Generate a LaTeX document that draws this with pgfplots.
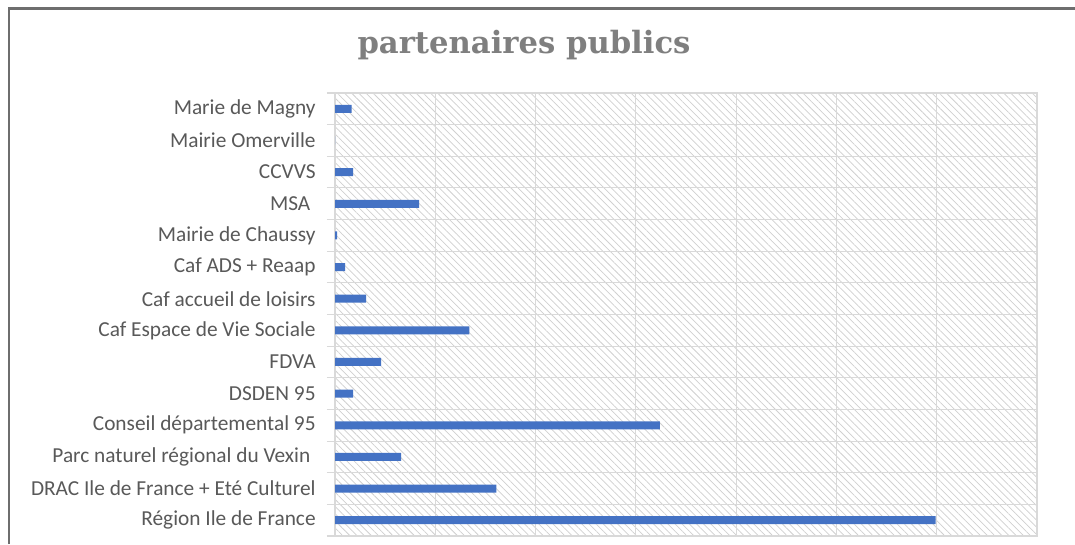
\documentclass[border=0pt]{standalone}
\usepackage{pgfplots}
\pgfplotsset{compat=1.18}
\usepackage{fontspec}
\setmainfont{Carlito}
\newfontfamily\titlefont{DejaVu Serif}
\usetikzlibrary{patterns.meta}

\definecolor{barblue}{HTML}{4472C4}
\definecolor{gridgray}{HTML}{D9D9D9}
\definecolor{labelgray}{HTML}{595959}
\definecolor{titlegray}{HTML}{7F7F7F}
\definecolor{framegray}{HTML}{6E6E6E}
\definecolor{hatchgray}{HTML}{D0D0D0}

\begin{document}
\begin{tikzpicture}
\fill[white] (0,0) rectangle (806.25pt,408pt);
\begin{axis}[
  at={(251.25pt,6pt)}, anchor=south west,
  scale only axis, width=526.5pt, height=332.25pt,
  xbar, bar width=6pt,
  xmin=0, xmax=7, ymin=-0.5, ymax=13.5,
  xtick={0,...,7}, xticklabels={}, xmajorgrids,
  ytick={0,...,13},
  % bottom to top
  yticklabels={
    Région Ile de France,
    DRAC Ile de France + Eté Culturel,
    Parc naturel régional du Vexin\hspace*{0.25em},
    Conseil départemental 95,
    DSDEN 95,
    FDVA,
    Caf Espace de Vie Sociale,
    Caf accueil de loisirs,
    Caf ADS + Reaap,
    Mairie de Chaussy,
    MSA\hspace*{0.25em},
    CCVVS,
    Mairie Omerville,
    Marie de Magny},
  minor ytick={-0.5,0.5,...,13.5}, yminorgrids,
  major tick length=0pt, minor tick length=6pt,
  tick pos=left, tick align=outside,
  grid style={gridgray, line width=0.8pt},
  minor grid style={gridgray, line width=0.8pt},
  axis line style={gridgray, line width=0.8pt},
  minor tick style={gridgray, line width=0.8pt},
  yticklabel style={font=\fontsize{16}{18}\selectfont, text=labelgray, xshift=-11pt},
  axis background/.style={pattern={Lines[angle=-45,distance=3.8pt,line width=0.55pt]}, pattern color=hatchgray},
]
\addplot[fill=barblue, draw=none] coordinates {
  (5.99,0)
  (1.61,1)
  (0.66,2)
  (3.24,3)
  (0.18,4)
  (0.46,5)
  (1.34,6)
  (0.31,7)
  (0.10,8)
  (0.02,9)
  (0.84,10)
  (0.18,11)
  (0,12)
  (0.165,13)
};
\end{axis}
\node[anchor=base, inner sep=0pt, text=titlegray] at (393pt,367.5pt)
  {\titlefont\bfseries\fontsize{23}{27}\selectfont partenaires publics};
\draw[framegray, line width=1.9pt] (6.9pt,0) -- (6.9pt,401.5pt) -- (806.25pt,401.5pt);
\pgfresetboundingbox
\path[use as bounding box] (0,0) rectangle (806.25pt,408pt);
\end{tikzpicture}
\end{document}
